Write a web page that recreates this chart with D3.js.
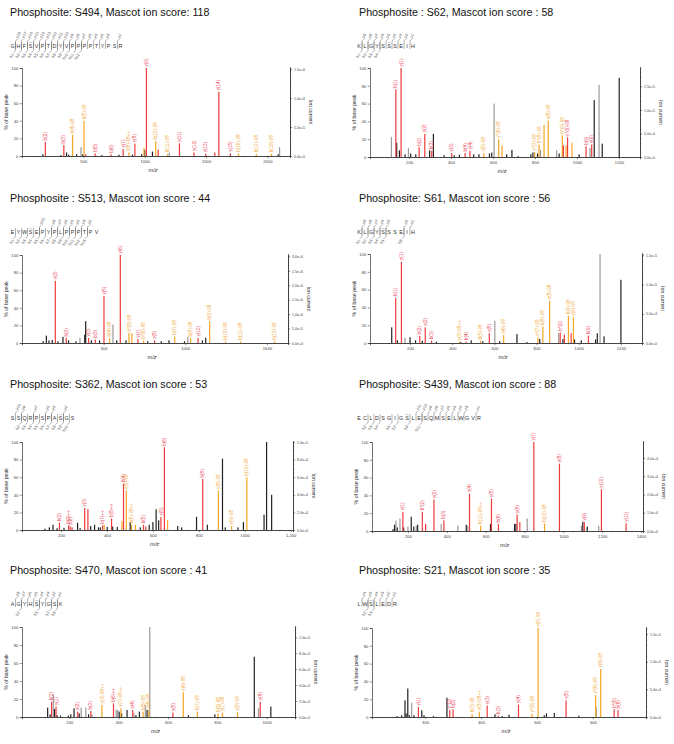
<!DOCTYPE html>
<html>
<head>
<meta charset="utf-8">
<script src="https://cdn.jsdelivr.net/npm/d3@7"></script>
<style>
  body { margin: 0; background: #fff; }
  svg { display: block; font-family: "Liberation Sans", Arial, sans-serif; }
</style>
</head>
<body>
<svg id="fig" width="674" height="744"></svg>
<script>
// ---- data ----
const titles = [
  'Phosphosite: S494, Mascot ion score: 118',
  'Phosphosite : S62, Mascot ion score : 58',
  'Phosphosite : S513, Mascot ion score : 44',
  'Phosphosite: S61, Mascot ion score : 56',
  'Phosphosite: S362, Mascot ion score : 53',
  'Phosphosite: S439, Mascot ion score : 88',
  'Phosphosite: S470, Mascot ion score : 41',
  'Phosphosite: S21, Mascot ion score : 35'
];

const peptides = ['GHFSVPTDYVPPPPTYPSR', 'KLGYSSSEIH', 'EYWSEPYPLPPPTPV', 'KLGYSSSEIH',
                  'SSQRPSPASGS', 'ECLDSGIGSLESQMSELWGVR', 'AGYHSYGSK', 'LWSLEDR'];
const phosphoSites = [4, 6, 4, 5, 9, 9, 5, 3];

// cleavage positions (after residue k) where y / b fragments were matched
const yIonCuts = [
  [1,2,3,4,5,6,7,8,9,10,11,12,13,14,15,16,18],
  [1,2,3,4,5,6,7,8,9],
  [5,7,8,9,10,11,12,13],
  [1,2,3,4,5,8,9],
  [1,2,4,6,7,9],
  [10,11,12,13,14,15,16,17,18,20],
  [1,2,3,4,5,6,7,8],
  [1,2,3,4,5,6]
];
const bIonCuts = [
  [1,2,3,4,5,6,7,8,9,10,11,12],
  [1,2,3,4],
  [1,2,3,4,5,6,7,8,9,10,11,12,13],
  [1,2,3,4,5,8],
  [2,3,4,5,6,7,8,9,10],
  [2,3,4,6,7,9,11],
  [2,5,7,8],
  [2,3]
];

const mzDomains = [[0, 2184], [14, 1300], [0, 1629], [10, 1300], [30, 1210], [15, 1410], [8, 1115], [205, 695]];
const mzTicks = [
  [500, 1000, 1500, 2000],
  [200, 400, 600, 800, 1000, 1200],
  [500, 1000, 1500],
  [200, 400, 600, 800, 1000, 1200],
  [200, 400, 600, 800, 1000, 1200],
  [200, 400, 600, 800, 1000, 1200, 1400],
  [200, 400, 600, 800, 1000],
  [300, 400, 500, 600]
];
const mzTickLabels = [
  ['500', '1000', '1500', '2000'],
  ['200', '400', '600', '800', '1000', '1200'],
  ['500', '1000', '1500'],
  ['200', '400', '600', '800', '1000', '1200'],
  ['200', '400', '600', '800', '1000', '1,200'],
  ['200', '400', '600', '800', '1000', '1200', '1400'],
  ['200', '400', '600', '800', '1000'],
  ['300', '400', '500', '600']
];
const pctTicks = [0, 20, 40, 60, 80, 100];

// ion current that corresponds to 100 % of base peak
const ionCurrentAtTop = [1.52e6, 1.89e5, 3.05e6, 1.52e5, 1.0e5, 4.87e4, 1.13e5, 1.61e5];
const ionCurrentTicks = [
  [0, 5e5, 1e6, 1.5e6],
  [0, 5e4, 1e5, 1.5e5],
  [0, 5e5, 1e6, 1.5e6, 2e6, 2.5e6, 3e6],
  [0, 5e4, 1e5, 1.5e5],
  [0, 2e4, 4e4, 6e4, 8e4, 1e5],
  [0, 1e4, 2e4, 3e4, 4e4],
  [0, 2e4, 4e4, 6e4, 8e4, 1e5],
  [0, 5e4, 1e5, 1.5e5]
];
const ionCurrentMinor = [1e5, 1e4, 1e5, 1e4, 5e3, 2.5e3, 5e3, 1e4];

// peaks: [m/z, % of base peak, kind, label]
// kind: 'ion' = matched fragment, 'loss' = neutral-loss fragment, 'raw' / 'raw2' = unassigned
const peaksS494 = [
  [170,2,'raw'],[190,16,'ion','b(2)'],[316,1,'raw'],[341,12.5,'ion','b(3)'],[363,4,'raw'],[380,1.5,'raw'],
  [412,24,'loss','b(4)-98'],[445,2,'raw'],[481,10,'raw2'],[495,2,'raw'],[505,40,'loss','b(5)-98'],[520,2,'ion'],
  [596,3,'ion','b(5)'],[650,1,'raw'],[725,2,'ion','b(6)'],[790,1.5,'raw'],[824,8,'ion','y(7)'],
  [871,4,'loss','y(8)-98++'],[900,1.5,'raw'],[920,14,'ion','y(8)'],[975,2,'raw'],[994,9,'loss'],[1000,7,'raw'],
  [1014,100,'ion','y(9)'],[1063,5,'raw'],[1090,17,'loss','b(10)-98'],[1110,7.5,'ion'],[1187,2.5,'loss','b(11)-98'],
  [1200,4,'raw2'],[1283,14.5,'ion','y(11)'],[1401,4,'ion','y(12)'],[1497,2.5,'ion','y(13)'],[1571,4,'ion'],
  [1604,73,'ion','y(14)'],[1698,3,'ion','y(15)'],[1764,3,'loss','b(16)-98'],[1909,2.5,'loss','b(17)-98'],
  [2033,2.5,'loss','b(18)-98'],[2088,2,'raw'],[2099,10,'raw2']
];
const peaksS62 = [
  [116,22.6,'raw2'],[137,76,'ion','b(1)'],[141,16,'raw'],[154,7.5,'raw'],[162,100,'ion','y(1)'],[181,3,'raw'],
  [197,10,'raw2'],[208,4,'raw'],[232,3,'raw'],[248,11,'ion','b(2)'],[275,26,'ion','y(2)'],[298,7.5,'raw'],
  [308,7,'ion','b(3)'],[316,26,'raw'],[367,2,'raw'],[403,4.5,'ion','y(3)'],[415,2,'raw'],[440,2.5,'raw'],
  [467,4.5,'ion','b(4)'],[490,7,'ion','y(4)'],[508,3,'raw'],[533,3,'raw'],[556,4.5,'loss','y(5)-98'],[583,4,'raw'],
  [594,5,'raw'],[605,60,'raw2'],[627,20,'loss','y*(6)-98'],[643,13,'loss'],[665,3,'raw'],[690,8,'raw'],[720,1,'raw'],
  [780,3,'raw'],[790,5,'raw'],[798,5.5,'loss','y*(7)-98'],[812,4,'raw'],[819,14,'loss','b*(8)-98'],[826,8,'raw2'],
  [843,36,'loss'],[863,41,'loss','y(8)-98'],[903,7.5,'raw2'],[915,4,'raw'],[930,24.5,'loss','b*(9)-98'],
  [935,13,'ion'],[948,13,'loss'],[955,22,'ion','y*(9)-98'],[976,16,'loss'],[1010,3,'raw'],[1043,12,'ion','b(9)'],
  [1062,10,'raw2'],[1070,14,'ion','y(9)'],[1082,64,'raw'],[1105,81,'raw2'],[1120,15,'raw'],[1201,89,'raw']
];
const peaksS513 = [
  [130,2,'raw'],[149,8.4,'raw'],[165,3,'raw'],[185,3.5,'raw'],[204,70.6,'ion','y(2)'],[220,2,'raw'],[251,7,'raw'],
  [271,5.7,'ion','b(2)'],[285,3,'raw'],[330,2,'raw'],[355,6,'raw2'],[384,9.5,'raw'],[390,24.8,'raw'],
  [408,5.7,'ion','y(3)'],[425,3,'raw'],[449,4,'ion','b(3)'],[475,3,'raw'],[502,53.4,'ion','y(5)'],
  [537,5.7,'loss','b(4)-98'],[557,21,'raw2'],[580,3,'raw'],[602,100,'ion','y(6)'],[637,3,'raw'],
  [655,11.5,'loss','b*(5)-98'],[673,11,'loss'],[710,4.6,'ion','y(7)'],[745,3,'loss','b*(6)-98'],[770,2,'raw'],
  [812,3,'ion','y(8)'],[853,2,'raw'],[900,3,'raw'],[935,7.6,'loss','b(7)-98'],[995,2,'raw'],[1016,7,'raw2'],
  [1033,5.7,'loss','b(8)-98'],[1078,5.7,'ion','y(10)'],[1105,3,'raw'],[1125,6,'raw'],[1149,25,'loss','b(9)-98'],
  [1247,2,'loss','b(10)-98'],[1339,2,'loss','b(11)-98'],[1547,2,'loss','b(13)-98']
];
const peaksS61 = [
  [113,17.6,'raw'],[132,51,'ion','b(1)'],[140,3,'raw'],[159,91.4,'ion','y(1)'],[176,6,'raw2'],[200,6.4,'raw'],
  [226,3,'raw'],[246,8,'ion','b(2)'],[258,2.5,'raw'],[272,17.6,'ion','y(2)'],[302,2.6,'ion','b(3)'],[325,1.5,'raw'],
  [435,1.5,'loss','y(3)-98++'],[440,1,'raw'],[466,1.5,'ion','b(4)'],[490,3,'raw'],[534,2.6,'loss','b(5)-98'],
  [545,2,'raw'],[576,11,'ion','y(5)'],[602,25,'raw2'],[625,2,'raw'],[644,9,'loss','y(6)-98'],[707,10,'raw'],
  [754,1,'raw'],[806,6.4,'loss','y*(7)-98'],[815,4.5,'raw'],[830,18.4,'loss','b(8)-98'],[862,47.6,'loss','y(8)-98'],
  [905,11,'raw2'],[912,12,'ion','b*(9)'],[925,4.5,'raw'],[932,9.4,'ion'],[951,30.7,'loss','b(9)-98'],[964,11,'ion'],
  [975,28.8,'loss','y(9)-98'],[980,4,'raw'],[1012,3,'raw'],[1046,8.2,'ion','b(9)'],[1080,4,'raw'],[1088,11,'raw'],
  [1101,100,'raw2'],[1120,7.5,'raw'],[1200,71,'raw']
];
const peaksS362 = [
  [130,1.5,'raw'],[149,3,'raw'],[165,6,'raw'],[183,2,'raw'],[193,8.3,'ion','b(2)'],[213,2.5,'raw'],
  [233,5.3,'ion','b(2)++'],[240,4,'ion','y(2)'],[248,3,'ion'],[272,8.3,'raw'],[283,2,'raw'],[303,25,'ion','y(3)'],
  [317,24,'ion'],[329,4.5,'raw'],[346,6,'raw'],[363,3,'raw'],[371,3,'raw'],[381,5.3,'ion','b(7)++'],[388,6,'loss'],
  [401,3.5,'raw'],[420,13,'ion','b(8)++'],[425,4,'raw'],[445,3.5,'raw'],[465,10,'loss'],[472,52.6,'ion','b(4)'],
  [484,45,'loss','y(5)-98'],[501,9,'raw'],[507,6,'loss','b(6)-98++'],[524,6,'loss'],[545,3,'raw'],
  [559,6,'ion','b(5)'],[569,4,'ion'],[584,6,'raw'],[600,9,'raw'],[614,23.5,'raw'],[625,11,'raw'],
  [635,14.8,'ion','y(5)'],[650,94,'ion','b(6)'],[664,11,'loss'],[708,4.5,'raw'],[725,3,'raw'],[790,15,'raw'],
  [817,58,'ion','b(8)'],[837,6,'raw'],[885,45,'loss','y(8)-98'],[903,81,'raw'],[915,3,'raw'],
  [943,4.5,'loss','y(9)-98'],[970,3,'raw'],[994,9,'raw'],[1009,60,'loss','b(10)-98'],[1084,17.4,'raw'],
  [1095,100,'raw'],[1117,40,'raw']
];
const peaksS439 = [
  [123,2,'raw'],[131,7,'raw'],[138,11.6,'raw2'],[145,4,'raw'],[159,14,'raw2'],[174,21.6,'ion','y(1)'],[178,4,'raw'],
  [200,5,'raw2'],[217,16,'raw'],[230,5,'raw'],[243,6,'raw2'],[250,7,'raw'],[274,21.6,'ion','b*(2)'],[291,8,'ion'],
  [334,35.4,'ion','y(2)'],[371,8,'raw2'],[385,12,'ion','b(3)'],[457,6,'raw2'],[500,7,'raw'],[508,6,'raw2'],
  [517,42,'ion','y(4)'],[574,6,'loss','b(11)-98++'],[625,8,'raw'],[630,36.5,'ion','y(5)'],[666,8,'ion','b(6)'],
  [749,8,'raw'],[756,8,'raw'],[762,18.6,'ion','y(6)'],[776,10,'ion'],[814,14,'raw2'],[848,100,'ion','y(7)'],
  [903,8.6,'loss','b(10)-98'],[980,75.7,'ion','y(8)'],[1093,6,'raw2'],[1100,10.4,'raw'],[1108,10,'ion','y(9)'],
  [1123,5,'raw'],[1182,6,'raw2'],[1196,47,'ion','y(10)'],[1323,8.6,'ion','y(11)']
];
const peaksS470 = [
  [112,10.4,'raw'],[122,3,'raw'],[128,17,'ion','b(2)'],[135,25,'raw2'],[140,9,'raw'],[146,11.6,'ion','y(1)'],
  [150,2,'raw'],[164,1.5,'raw'],[196,1.5,'raw'],[206,3,'raw'],[219,9.7,'raw'],[234,6,'ion','y(2)'],[240,4,'raw'],
  [248,10.4,'raw2'],[267,10.4,'raw2'],[278,3,'raw'],[287,6.7,'ion','b(3)'],[292,3,'raw2'],
  [332,13.4,'loss','y(3)-98++'],[379,15.3,'ion','b(6)++'],[390,8,'raw2'],[396,7.8,'raw2'],[402,6,'raw'],
  [409,9.7,'loss','y(7)-98++'],[412,4,'raw'],[434,7.8,'raw'],[457,7.8,'ion','y(4)'],[462,4,'raw2'],[470,2,'raw'],
  [484,6,'raw'],[499,6,'loss','b(5)-98'],[508,13.4,'raw2'],[515,8,'raw'],[522,7.8,'loss','y(4)-98'],
  [526,100,'raw2'],[620,5,'ion','y(5)'],[662,27.6,'loss','y(6)-98'],[683,2,'raw'],[719,6,'loss','b(7)-98'],
  [790,3,'raw'],[803,4,'loss','b(8)-98'],[821,4.8,'loss','y(7)-98'],[882,5.2,'loss','y(8)-98'],[950,67,'raw'],
  [967,9.7,'raw2'],[974,17,'ion','y(8)'],[1017,11.6,'raw']
];
const peaksS21 = [
  [250,1,'raw'],[258,2,'raw'],[264,18.7,'raw'],[266,4,'raw'],[269,32,'raw'],[272,2,'raw'],[276,16,'raw2'],
  [280,2,'raw'],[288,11.2,'ion','y(1)'],[294,7.5,'raw'],[298,2,'raw'],[315,1,'raw'],[339,21.6,'raw'],
  [344,8,'ion','y*(2)'],[350,8.6,'ion','b(2)'],[384,3.7,'loss','b(3)-98'],[397,6,'loss','y(3)-98++'],
  [411,13,'ion','y(3)'],[425,3,'raw'],[431,1.5,'ion','b(3)'],[438,1,'raw'],[450,2.5,'raw'],[467,14,'ion','y(4)'],
  [491,3.7,'loss','y*(5)-98'],[502,100,'loss','y(5)-98'],[513,2,'raw'],[517,4,'raw'],[531,4.5,'raw'],
  [552,18.7,'ion','y(5)'],[575,1.5,'raw'],[605,24.6,'loss','y*(6)-98'],[606,11,'raw2'],[614,54,'loss','y(6)-98'],
  [638,8.6,'ion','b*(5)'],[645,8,'ion','b(6)']
];
const peakSets = [peaksS494, peaksS62, peaksS513, peaksS61, peaksS362, peaksS439, peaksS470, peaksS21];

// ---- layout ----
const frames = [
  { ox: 0,   oy: 0,   l: 22, r: 290, t: 68, b: 156 },
  { ox: 337, oy: 0,   l: 33, r: 303, t: 68, b: 157 },
  { ox: 0,   oy: 186, l: 22, r: 288, t: 69, b: 157 },
  { ox: 337, oy: 186, l: 33, r: 305, t: 68, b: 157 },
  { ox: 0,   oy: 372, l: 22, r: 293, t: 70, b: 158 },
  { ox: 337, oy: 372, l: 35, r: 306, t: 70, b: 159 },
  { ox: 0,   oy: 558, l: 22, r: 295, t: 69, b: 159 },
  { ox: 337, oy: 558, l: 35, r: 309, t: 70, b: 159 }
];

const colors = { ion: '#ef3b3b', loss: '#f6a623', raw: '#222', raw2: '#9a9a9a' };
const labelColors = { ion: '#ee4a5a', loss: '#f2a93a' };

const svg = d3.select('#fig');

function drawSequence(g, seq, site, yCuts, bCuts, x0) {
  const step = 6, yb = 47.5, n = seq.length;
  const seqG = g.append('g');
  seq.split('').forEach((ch, i) => {
    seqG.append('text')
      .attr('x', x0 + i * step).attr('y', yb)
      .attr('text-anchor', 'middle')
      .attr('font-size', 5.4).attr('fill', '#333')
      .text(ch);
  });
  // phospho mark above the modified residue
  seqG.append('text')
    .attr('x', x0 + (site - 1) * step).attr('y', yb - 4.8)
    .attr('text-anchor', 'middle').attr('font-size', 2.4).attr('fill', '#777')
    .text('ph');

  // y ions: flag above, hook to the right
  yCuts.forEach(k => {
    const x = x0 + (k - 0.5) * step;
    seqG.append('path')
      .attr('d', `M${x},49 L${x},41 L${x + 2.2},38.6`)
      .attr('fill', 'none').attr('stroke', '#555').attr('stroke-width', 0.45);
    seqG.append('text')
      .attr('transform', `translate(${x + 2},38.2) rotate(-55)`)
      .attr('font-size', 3.9).attr('fill', '#444')
      .text('y' + (n - k));
  });
  // b ions: flag below, hook to the left
  bCuts.forEach(k => {
    const x = x0 + (k - 0.5) * step;
    seqG.append('path')
      .attr('d', `M${x},42 L${x},50.5 L${x - 2.2},52.8`)
      .attr('fill', 'none').attr('stroke', '#555').attr('stroke-width', 0.45);
    seqG.append('text')
      .attr('transform', `translate(${x - 1.6},54.6) rotate(-55)`)
      .attr('text-anchor', 'end')
      .attr('font-size', 3.9).attr('fill', '#444')
      .text('b' + k);
  });
}

function styleAxis(sel, fs) {
  sel.select('.domain').attr('stroke', '#333').attr('stroke-width', 0.7);
  sel.selectAll('.tick line').attr('stroke', '#333').attr('stroke-width', 0.5);
  sel.selectAll('.tick text').attr('font-size', fs).attr('fill', '#444')
    .attr('font-family', '"Liberation Sans", Arial, sans-serif');
}

peakSets.forEach((peaks, i) => {
  const f = frames[i];
  const g = svg.append('g').attr('transform', `translate(${f.ox},${f.oy})`);
  const right = f.ox > 0;

  g.append('text')
    .attr('x', right ? 22 : 10).attr('y', 15.5)
    .attr('font-size', 10.7).attr('fill', '#111')
    .text(titles[i]);

  drawSequence(g, peptides[i], phosphoSites[i], yIonCuts[i], bIonCuts[i], right ? 22 : 12.5);

  const x = d3.scaleLinear().domain(mzDomains[i]).range([f.l, f.r]);
  const y = d3.scaleLinear().domain([0, 100]).range([f.b, f.t]);
  const yIon = d3.scaleLinear().domain([0, ionCurrentAtTop[i]]).range([f.b, f.t]);

  // bars
  const order = { raw2: 0, raw: 1, loss: 2, ion: 3 };
  const sorted = peaks.slice().sort((a, b) => order[a[2]] - order[b[2]]);
  g.append('g').selectAll('rect')
    .data(sorted)
    .join('rect')
    .attr('x', d => x(d[0]) - 0.6)
    .attr('width', 1.2)
    .attr('y', d => y(d[1]))
    .attr('height', d => f.b - y(d[1]))
    .attr('fill', d => colors[d[2]]);

  // peak labels
  g.append('g').selectAll('text')
    .data(peaks.filter(d => d[3]))
    .join('text')
    .attr('transform', d => `translate(${x(d[0]) + 1.6},${y(d[1]) - 1.5}) rotate(-90)`)
    .attr('font-size', 4.6)
    .attr('fill', d => labelColors[d[2]])
    .text(d => d[3]);

  // x axis
  const xMinor = g.append('g').attr('transform', `translate(0,${f.b})`)
    .call(d3.axisBottom(x).ticks(20).tickSize(1.2).tickFormat(''));
  styleAxis(xMinor, 4);
  const xAx = g.append('g').attr('transform', `translate(0,${f.b})`)
    .call(d3.axisBottom(x).tickValues(mzTicks[i]).tickSize(2.2).tickPadding(1.5)
      .tickFormat((d, j) => mzTickLabels[i][j]));
  styleAxis(xAx, 4.2);

  // left axis
  const yAx = g.append('g').attr('transform', `translate(${f.l},0)`)
    .call(d3.axisLeft(y).tickValues(pctTicks).tickSize(2.2).tickPadding(1.5));
  styleAxis(yAx, 4.2);

  // right axis (ion current)
  const minorVals = d3.range(0, ionCurrentAtTop[i] + 1e-9, ionCurrentMinor[i]);
  const rMinor = g.append('g').attr('transform', `translate(${f.r},0)`)
    .call(d3.axisRight(yIon).tickValues(minorVals).tickSize(1.2).tickFormat(''));
  styleAxis(rMinor, 4);
  const rAx = g.append('g').attr('transform', `translate(${f.r},0)`)
    .call(d3.axisRight(yIon).tickValues(ionCurrentTicks[i]).tickSize(2.2).tickPadding(1.8)
      .tickFormat(d3.format('.1e')));
  styleAxis(rAx, 3.6);
  rAx.select('.domain').attr('d', `M0.5,${f.t - 1}V${f.b}`);

  // axis titles
  g.append('text')
    .attr('transform', `translate(${f.l - 14},${(f.t + f.b) / 2}) rotate(-90)`)
    .attr('text-anchor', 'middle').attr('font-size', 5.2).attr('fill', '#333')
    .text('% of base peak');
  g.append('text')
    .attr('transform', `translate(${f.r + 19},${(f.t + f.b) / 2}) rotate(90)`)
    .attr('text-anchor', 'middle').attr('font-size', 5.2).attr('fill', '#333')
    .text('Ion current');
  g.append('text')
    .attr('x', (f.l + f.r) / 2 - 3).attr('y', f.b + 16)
    .attr('text-anchor', 'middle').attr('font-size', 5.6).attr('font-style', 'italic').attr('fill', '#333')
    .text('m/z');
});
</script>
</body>
</html>
